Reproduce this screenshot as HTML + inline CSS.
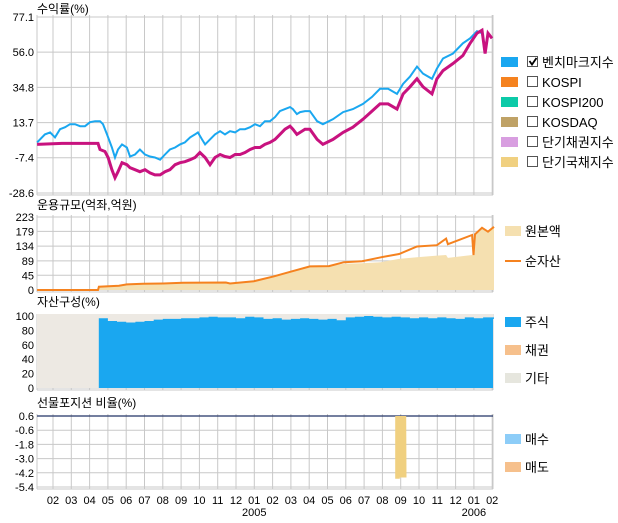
<!DOCTYPE html>
<html><head><meta charset="utf-8">
<style>
body{margin:0;background:#fff;}
svg{display:block;font-family:"Liberation Sans","Noto Sans CJK KR","NanumGothic",sans-serif;}
</style></head>
<body>
<svg id="c" width="618" height="523" viewBox="0 0 618 523"></svg>
<script>
// ---- data ----
const monthLabels=["02","03","04","05","06","07","08","09","10","11","12","01","02","03","04","05","06","07","08","09","10","11","12","01","02"];
const yearLabels=["2005","2006"];
const yearMonthIdx=[11,23];
// returns panel
const retTicks=[77.1,56.0,34.8,13.7,-7.4,-28.6];
const benchT=[0.13,0.56,0.84,1.11,1.38,1.66,1.93,2.2,2.48,2.75,3.02,3.3,3.57,3.73,3.95,4.22,4.39,4.55,4.77,5.04,5.21,5.48,5.75,6.03,6.3,6.57,6.85,7.12,7.39,7.67,7.94,8.21,8.49,8.76,8.92,9.14,9.31,9.58,9.85,10.13,10.4,10.67,10.95,11.22,11.49,11.77,12.04,12.31,12.58,12.86,13.13,13.4,13.68,13.95,14.11,14.33,14.5,14.77,15.04,15.43,15.75,16.3,16.85,17.39,17.94,18.43,18.87,19.31,19.8,20.13,20.51,20.89,21.22,21.71,21.98,22.31,22.86,23.4,23.79,24.17,24.44,24.61,24.77,24.99];
const benchV=[1.8,6.6,7.8,4.8,9.7,10.9,12.7,12.7,11.5,11.5,13.9,14.5,14.5,12.7,6.6,-1.3,-7.3,-2.5,0.6,-1.3,-6.7,-5.5,-2.5,-5.5,-6.7,-7.3,-8.6,-5.5,-2.5,-1.3,0.6,1.8,4.8,6.6,7.8,3.6,0.6,3.6,6.6,8.5,6.6,8.5,7.8,9.7,9.7,10.9,12.7,11.5,14.5,14.5,17.0,20.6,21.8,23.0,21.8,18.8,20.0,20.6,20.6,14.5,12.7,15.7,20.0,21.8,24.9,29.1,34.0,34.0,30.9,37.0,41.3,47.3,43.1,40.0,46.1,52.2,55.2,61.3,64.3,68.6,67.4,58.3,67.4,64.3];
const fundT=[0.13,1.49,3.46,3.57,3.84,4.01,4.22,4.39,4.55,4.77,5.04,5.21,5.48,5.75,6.03,6.3,6.57,6.85,7.12,7.39,7.67,7.94,8.21,8.49,8.76,9.03,9.31,9.58,9.85,10.13,10.4,10.67,10.95,11.22,11.49,11.77,12.04,12.31,12.58,12.86,13.13,13.4,13.68,13.95,14.11,14.33,14.5,14.77,15.04,15.43,15.75,16.3,16.85,17.39,17.94,18.43,18.87,19.31,19.8,20.13,20.51,20.89,21.22,21.71,21.98,22.31,22.86,23.4,23.79,24.17,24.44,24.61,24.77,24.99];
const fundV=[0.6,1.2,1.2,-2.5,-3.7,-7.3,-14.6,-19.5,-15.8,-10.4,-11.6,-13.4,-14.6,-15.8,-14.6,-16.5,-17.7,-17.7,-15.8,-14.6,-11.6,-10.4,-9.8,-8.6,-7.3,-4.3,-7.3,-11.6,-7.3,-5.5,-6.7,-7.3,-5.5,-5.5,-4.3,-2.5,-1.3,-1.3,0.6,1.8,3.6,6.6,9.7,11.5,9.7,6.6,7.8,9.7,9.7,3.6,0.6,3.6,7.8,10.9,15.7,20.6,24.9,24.9,21.8,30.9,35.2,40.0,35.2,30.9,40.0,44.9,49.2,54.0,61.3,67.4,69.2,55.2,67.4,64.3];
// AUM panel
const aumTicks=[223,179,134,89,45,0];
const aumT=[0.13,3.46,3.51,4.6,5.04,5.92,7.01,8.1,10.45,10.67,11.98,13.08,14.06,15.04,16.08,16.9,17.89,18.92,19.91,20.89,21.98,22.48,22.58,23.9,23.98,24.06,24.44,24.77,25.1];
const navV=[0,0,10,13,17,19,20,22,23,20,27,42,57,72,73,85,88,100,110,133,137,157,140,168,107,170,190,178,193];
const principalV=[0,0,10,13,17,19,20,22,23,20,27,42,57,72,73,80,82,85,95,100,105,107,98,107,107,170,190,178,193];
// asset composition
const compTicks=[100,80,60,40,20,0];
const stockT=[3.5,4.0,4.5,5.0,5.5,6.0,6.5,7.0,7.5,8.0,8.5,9.0,9.5,10.0,10.5,11.0,11.5,12.0,12.5,13.0,13.5,14.0,14.5,15.0,15.5,16.0,16.5,17.0,17.5,18.0,18.5,19.0,19.5,20.0,20.5,21.0,21.5,22.0,22.5,23.0,23.5,24.0,24.5,25.1];
const stockV=[97,93,92,91,92,93,95,96,96,97,97,98,99,98,98,97,99,98,96,97,95,96,97,96,95,96,94,98,99,100,99,98,99,98,97,98,97,98,97,96,98,97,98,96];
// futures
const futTicks=[0.6,-0.6,-1.8,-3.0,-4.2,-5.4];
const sellT=[19.7,19.95,20.3];
const sellV=[-4.7,-4.6,-4.6];

const svg=document.getElementById('c');
const NS='http://www.w3.org/2000/svg';
function mk(tag,attrs,parent){const e=document.createElementNS(NS,tag);for(const k in attrs)e.setAttribute(k,attrs[k]);(parent||svg).appendChild(e);return e;}
function txt(s,x,y,attrs,parent){const e=mk('text',Object.assign({x:x,y:y},attrs),parent);e.textContent=s;return e;}

const X0=37,X1=493;
const xT=t=>53+(t-1)*18.3;
const GRID='#c8c8c8';

function panel(name,top,bot,ticks,vmax,vmin,title,titleY,dec){
  const g=mk('g',{});
  
  
  const y=v=>top+(vmax-v)/(vmax-vmin)*(bot-top);
  const t=txt(title,37,titleY,{'font-size':'12','fill':'#000'},g);
  
  
  ticks.forEach(v=>{
    mk('line',{x1:X0,x2:X1,y1:y(v),y2:y(v),stroke:GRID,'stroke-width':1},g);
    const l=txt(v.toFixed(dec),34,y(v)+4,{'font-size':'11','text-anchor':'end','fill':'#000'},g);
    
    
  });
  for(let i=0;i<monthLabels.length;i++){const x=xT(i+1);mk('line',{x1:x,x2:x,y1:top-2,y2:bot+2,stroke:GRID,'stroke-width':1},g);}
  mk('line',{x1:X0,x2:X0,y1:top-2,y2:bot+2,stroke:GRID},g);
  mk('line',{x1:X1,x2:X1,y1:top-2,y2:bot+2,stroke:GRID},g);
  mk('line',{x1:X0,x2:X1,y1:bot+2,y2:bot+2,stroke:GRID},g);
  return {g,y};
}
function pts(T,V,y){return T.map((t,i)=>xT(t).toFixed(1)+','+y(V[i]).toFixed(1)).join(' ');}

// ---- panel 1: returns ----
const p1=panel('returns-panel',17,193,retTicks,77.1,-28.6,'수익률(%)',13,1);
const bl=mk('polyline',{points:pts(benchT,benchV,p1.y),fill:'none',stroke:'#1aa7f0','stroke-width':2},p1.g);


const fl=mk('polyline',{points:pts(fundT,fundV,p1.y),fill:'none',stroke:'#c8127f','stroke-width':3},p1.g);



const legItems=[['벤치마크지수','#1aa7f0',true],['KOSPI','#f5821f',false],['KOSPI200','#0ccaa8',false],['KOSDAQ','#bfa266',false],['단기채권지수','#d89ee0',false],['단기국채지수','#f0d080',false]];
legItems.forEach((it,i)=>{
  const cy=62+i*20;
  const g=mk('g',{});
  
  
  mk('rect',{x:501,y:cy-5,width:17,height:10,fill:it[1]},g);
  mk('rect',{x:527.5,y:cy-5.5,width:10,height:10,fill:'#fff',stroke:'#555','stroke-width':1},g);
  if(it[2]) mk('path',{d:`M529.5 ${cy-1} L532 ${cy+2.5} L536.5 ${cy-4}`,fill:'none',stroke:'#000','stroke-width':1.8},g);
  txt(it[0],542,cy+5,{'font-size':'13','fill':'#000'},g);
});

// ---- panel 2: AUM ----
const p2=panel('aum-panel',217,290,aumTicks,223,0,'운용규모(억좌,억원)',209,0);
const areaPts=xT(aumT[0]).toFixed(1)+','+p2.y(0)+' '+pts(aumT,principalV,p2.y)+' '+xT(aumT[aumT.length-1]).toFixed(1)+','+p2.y(0);
const pa=mk('polygon',{points:areaPts,fill:'#f5e0b0'},p2.g);


const nl=mk('polyline',{points:pts(aumT,navV,p2.y),fill:'none',stroke:'#f5821f','stroke-width':2},p2.g);


[['원본액',231,'rect'],['순자산',261,'line']].forEach(it=>{
  const g=mk('g',{});
  
  
  if(it[2]==='rect') mk('rect',{x:505,y:it[1]-5,width:16,height:10,fill:'#f5e0b0'},g);
  else mk('line',{x1:505,x2:521,y1:it[1],y2:it[1],stroke:'#f5821f','stroke-width':2},g);
  txt(it[0],525,it[1]+5,{'font-size':'13'},g);
});

// ---- panel 3: composition ----
const p3=panel('composition-panel',316,388,compTicks,100,0,'자산구성(%)',306,0);
const oth=mk('rect',{x:X0,y:p3.y(100)-2,width:X1-X0,height:p3.y(0)-p3.y(100)+2,fill:'#ede9e3'},p3.g);


let sp=xT(stockT[0]).toFixed(1)+','+p3.y(0);
stockT.forEach((t,i)=>{const x0=xT(t),x1=i<stockT.length-1?xT(stockT[i+1]):X1;sp+=' '+x0.toFixed(1)+','+p3.y(stockV[i]).toFixed(1)+' '+x1.toFixed(1)+','+p3.y(stockV[i]).toFixed(1);});
sp+=' '+X1+','+p3.y(0);
const st=mk('polygon',{points:sp,fill:'#1aa7f0'},p3.g);


[['주식',322,'#1aa7f0'],['채권',350,'#f6c08c'],['기타',378,'#e6e6de']].forEach(it=>{
  const g=mk('g',{});
  
  
  mk('rect',{x:505,y:it[1]-5,width:16,height:10,fill:it[2]},g);
  txt(it[0],525,it[1]+5,{'font-size':'13'},g);
});

// ---- panel 4: futures ----
const p4=panel('futures-panel',416,487,futTicks,0.6,-5.4,'선물포지션 비율(%)',407,1);
mk('line',{x1:X0,x2:X1,y1:p4.y(0.6),y2:p4.y(0.6),stroke:'#223366','stroke-width':1.2},p4.g);
let fp=xT(sellT[0]).toFixed(1)+','+p4.y(0.6);
sellT.forEach((t,i)=>{const x1=i<sellT.length-1?xT(sellT[i+1]):xT(t)+0.3;fp+=' '+xT(t).toFixed(1)+','+p4.y(sellV[i]).toFixed(1)+' '+x1.toFixed(1)+','+p4.y(sellV[i]).toFixed(1);});
fp+=' '+xT(sellT[sellT.length-1]+0.0).toFixed(1)+','+p4.y(0.6);
const sb=mk('polygon',{points:fp,fill:'#f0d080'},p4.g);


[['매수',439,'#8dcdf8'],['매도',467,'#f6c08c']].forEach(it=>{
  const g=mk('g',{});
  
  
  mk('rect',{x:505,y:it[1]-5,width:16,height:10,fill:it[2]},g);
  txt(it[0],525,it[1]+5,{'font-size':'13'},g);
});

// ---- x axis labels ----
monthLabels.forEach((m,i)=>{
  const l=txt(m,xT(i+1),504,{'font-size':'11','text-anchor':'middle'});
  
  
});
yearLabels.forEach((yv,i)=>{
  const l=txt(yv,xT(yearMonthIdx[i]+1),516,{'font-size':'11','text-anchor':'middle'});
  
  
});
</script>
</body></html>
